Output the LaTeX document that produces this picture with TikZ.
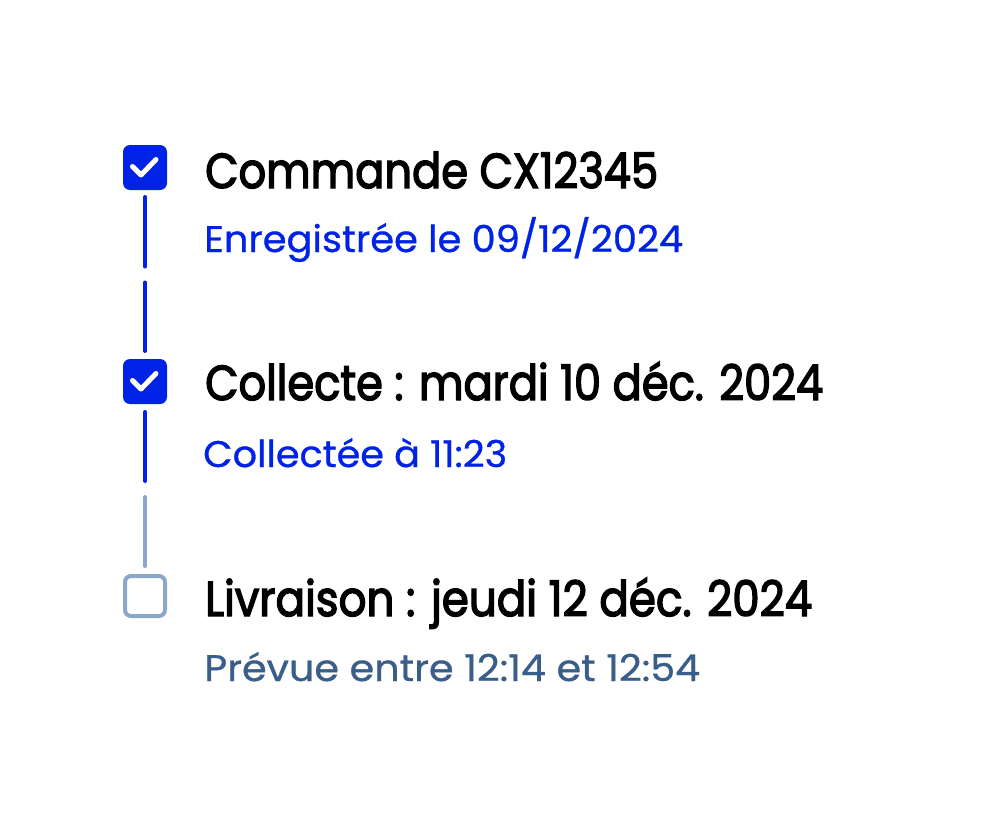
\documentclass[tikz,border=0pt]{standalone}
\usepackage{fontspec}
\usepackage{graphicx}
\setmainfont{Poppins}
\newfontfamily\titlefont{Poppins}[FakeBold=3]
\newfontfamily\subfont{Poppins}[FakeBold=0.8]
\usetikzlibrary{calc}
\definecolor{tlblue}{RGB}{0,34,230}
\definecolor{tlgray}{RGB}{138,166,203}
\definecolor{tlslate}{RGB}{58,94,138}
\newcommand\fitw[2]{\resizebox{#1}{\height}{#2}}
\tikzset{
  donebox/.style={rectangle, rounded corners=7pt, fill=tlblue, minimum width=44pt, minimum height=45pt, inner sep=0pt, outer sep=0pt},
  todobox/.style={rectangle, rounded corners=6pt, draw=tlgray, line width=4pt, minimum width=40pt, minimum height=40pt, inner sep=0pt, outer sep=2pt},
  tick/.style={white, line width=5pt, line cap=round, line join=round},
  doneline/.style={tlblue, line width=4pt, line cap=round},
  todoline/.style={tlgray, line width=4pt, line cap=round},
  ttl/.style={anchor=base west, inner sep=0pt, font=\titlefont\fontsize{49}{58}\selectfont, text=black},
  sub/.style={anchor=base west, inner sep=0pt, font=\subfont\fontsize{37}{44}\selectfont},
}
\begin{document}
\begin{tikzpicture}[x=1pt,y=-1pt]
\path[use as bounding box] (0,0) rectangle (1000,827);
% boxes
\node[donebox] (b1) at (145,167.5) {};
\node[donebox] (b2) at (145,381.5) {};
\node[todobox] (b3) at (145,596) {};
\draw[tick] ($(b1.center)+(-12.5,-1)$) -- ($(b1.center)+(-4,7.5)$) -- ($(b1.center)+(11,-8)$);
\draw[tick] ($(b2.center)+(-12.5,-1)$) -- ($(b2.center)+(-4,7.5)$) -- ($(b2.center)+(11,-8)$);
% connectors
\coordinate (m1) at ($(b1.south)!0.5!(b2.north)$);
\coordinate (m2) at ($(b2.south)!0.5!(b3.north)$);
\draw[doneline] ($(b1.south)+(0,7)$) -- ($(m1)+(0,-8)$);
\draw[doneline] ($(m1)+(0,8)$) -- ($(b2.north)+(0,-8)$);
\draw[doneline] ($(b2.south)+(0,8)$) -- ($(m2)+(0,-8)$);
\draw[todoline] ($(m2)+(0,8)$) -- ($(b3.north)+(0,-8)$);
% texts
\node[ttl] (t1) at (205,188) {\fitw{453pt}{Commande CX12345}};
\node[sub, text=tlblue] (s1) at (204,252) {\fitw{479pt}{Enregistrée le 09/12/2024}};
\node[ttl] (t2) at (205,400) {\fitw{618pt}{Collecte : mardi 10 déc. 2024}};
\node[sub, text=tlblue] (s2) at (203,467) {\fitw{304pt}{Collectée à 11:23}};
\node[ttl] (t3) at (205,616) {\fitw{607pt}{Livraison : jeudi 12 déc. 2024}};
\node[sub, text=tlslate] (s3) at (204,681) {\fitw{496pt}{Prévue entre 12:14 et 12:54}};
\end{tikzpicture}
\end{document}
